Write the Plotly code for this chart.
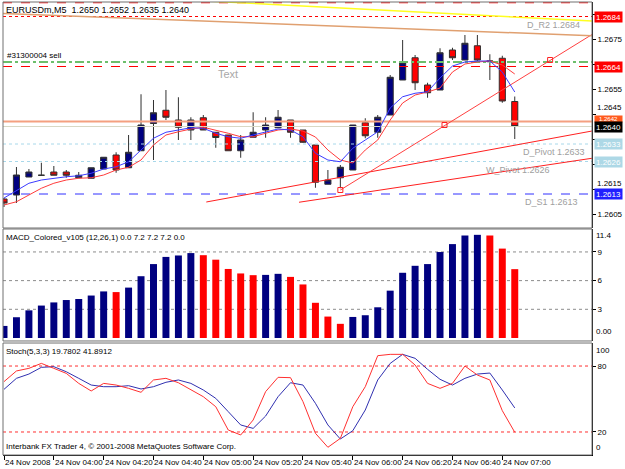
import plotly.graph_objects as go

# ---------------- data ----------------
bars = list(range(42))
opens = [1.26110, 1.26126, 1.26198, 1.26205, 1.26218, 1.26218, 1.26195, 1.26193, 1.26230, 1.26286,
         1.26235, 1.26303, 1.26412, 1.26465, 1.26426, 1.26386, 1.26435, 1.26377, 1.26366, 1.26303,
         1.26357, 1.26386, 1.26395, 1.26426, 1.26386, 1.26326, 1.26169, 1.26195, 1.26226, 1.26415,
         1.26377, 1.26446, 1.26586, 1.26675, 1.26566, 1.26546, 1.26706, 1.26666, 1.26723, 1.26659,
         1.26673, 1.26500]
highs = [1.26114, 1.26238, 1.26230, 1.26255, 1.26242, 1.26226, 1.26218, 1.26235, 1.26277, 1.26297,
         1.26366, 1.26529, 1.26506, 1.26546, 1.26517, 1.26437, 1.26446, 1.26377, 1.26366, 1.26366,
         1.26457, 1.26437, 1.26466, 1.26426, 1.26386, 1.26326, 1.26226, 1.26246, 1.26406, 1.26433,
         1.26446, 1.26606, 1.26746, 1.26686, 1.26575, 1.26713, 1.26715, 1.26766, 1.26766, 1.26689,
         1.26683, 1.26520]
lows = [1.26078, 1.26094, 1.26198, 1.26202, 1.26205, 1.26195, 1.26193, 1.26193, 1.26230, 1.26215,
        1.26235, 1.26303, 1.26266, 1.26426, 1.26346, 1.26346, 1.26386, 1.26315, 1.26303, 1.26275,
        1.26357, 1.26355, 1.26395, 1.26355, 1.26335, 1.26155, 1.26169, 1.26153, 1.26226, 1.26353,
        1.26355, 1.26446, 1.26586, 1.26546, 1.26515, 1.26546, 1.26666, 1.26666, 1.26659, 1.26586,
        1.26495, 1.26350]
closes = [1.26094, 1.26206, 1.26218, 1.26205, 1.26205, 1.26205, 1.26205, 1.26235, 1.26277, 1.26226,
          1.26297, 1.26406, 1.26455, 1.26437, 1.26397, 1.26426, 1.26386, 1.26356, 1.26303, 1.26346,
          1.26377, 1.26406, 1.26437, 1.26377, 1.26337, 1.26177, 1.26186, 1.26237, 1.26406, 1.26363,
          1.26437, 1.26597, 1.26655, 1.26575, 1.26535, 1.26695, 1.26675, 1.26733, 1.26666, 1.26662,
          1.26502, 1.26400]
ma_fast = [1.26114, 1.26142, 1.26173, 1.26186, 1.26193, 1.26199, 1.26203, 1.26213, 1.26230, 1.26239,
           1.26259, 1.26306, 1.26353, 1.26377, 1.26386, 1.26395, 1.26393, 1.26373, 1.26359, 1.26353,
           1.26366, 1.26377, 1.26390, 1.26386, 1.26359, 1.26293, 1.26266, 1.26259, 1.26313, 1.26346,
           1.26379, 1.26474, 1.26519, 1.26533, 1.26539, 1.26594, 1.26642, 1.26658, 1.26662, 1.26662,
           1.26618, 1.26538]
ma_slow = [1.26086, 1.26099, 1.26126, 1.26153, 1.26173, 1.26186, 1.26193, 1.26195, 1.26206, 1.26226,
           1.26237, 1.26266, 1.26326, 1.26366, 1.26379, 1.26390, 1.26397, 1.26386, 1.26373, 1.26359,
           1.26359, 1.26373, 1.26386, 1.26390, 1.26382, 1.26358, 1.26306, 1.26266, 1.26254, 1.26306,
           1.26346, 1.26426, 1.26494, 1.26526, 1.26538, 1.26554, 1.26618, 1.26650, 1.26658, 1.26662,
           1.26646, 1.26610]
macd = [1.26, 2.17, 2.89, 3.39, 3.72, 3.97, 4.08, 4.44, 4.87, 4.80,
        5.27, 6.46, 7.73, 8.48, 8.63, 8.88, 8.66, 8.19, 7.22, 6.75,
        6.57, 6.60, 6.71, 6.39, 5.60, 3.68, 2.24, 1.48, 2.20, 2.38,
        3.21, 4.95, 6.82, 7.55, 7.73, 8.99, 9.82, 10.72, 10.79, 10.72,
        9.35, 7.20]
stoch_k = [65.8, 75.5, 77.9, 82.4, 77.9, 73.3, 64.2, 57.3, 64.2, 62.7,
           59.7, 56.1, 67.3, 68.8, 64.8, 58.8, 52.1, 43.0, 21.8, 17.3,
           30.9, 56.7, 69.7, 69.4, 47.6, 18.8, 6.1, 14.2, 43.0, 61.2,
           89.4, 90.6, 90.6, 80.9, 64.2, 59.7, 64.2, 80.0, 71.8, 67.3,
           39.4, 19.78]
stoch_d = [58.8, 68.8, 72.7, 78.8, 79.4, 74.8, 68.8, 62.7, 61.2, 61.2,
           62.1, 59.1, 61.2, 65.2, 67.3, 64.2, 58.2, 50.6, 38.5, 26.4,
           23.3, 34.5, 52.1, 64.8, 62.7, 46.1, 26.4, 13.6, 21.2, 40.0,
           67.3, 82.4, 90.6, 87.0, 77.0, 67.9, 62.7, 68.8, 72.7, 73.6,
           58.2, 41.89]
time_label_bars = [0, 4, 8, 12, 16, 20, 24, 28, 32, 36, 40]
time_labels = ["24 Nov 2008", "24 Nov 04:00", "24 Nov 04:20", "24 Nov 04:40", "24 Nov 05:00",
               "24 Nov 05:20", "24 Nov 05:40", "24 Nov 06:00", "24 Nov 06:20", "24 Nov 06:40",
               "24 Nov 07:00"]
price_ticks = [1.2605, 1.2615, 1.2625, 1.2635, 1.2645, 1.2655, 1.2665, 1.2675, 1.2685]
price_tick_text = ["1.2605", "", "", "", "", "1.2655", "", "1.2675", ""]
# tick labels that sit just above a price tag
raised_tick_prices = [1.2615, 1.2645]
raised_tick_texts = ["1.2615", "1.2645"]
raised_tick_shift = [-1, 0]
macd_ticks = [3, 6, 9]
stoch_ticks = [20, 80]

# horizontal chart objects (price levels)
level_prices = [1.26895, 1.2684, 1.26658, 1.2664, 1.2642, 1.2640, 1.2633, 1.2626, 1.2613]
level_colors = ["#ff0000", "#ff0000", "#6cbf6c", "#ff0000", "#f4a080", "#d8d8c4", "#a8d8ea", "#a8d8ea", "#3030ff"]
level_dash = ["dash", "dot", "dashdot", "dash", "solid", "solid", "dot", "dot", "dash"]
level_width = [1, 1, 2, 1, 2, 1, 1, 1, 1]

# right-axis price tags (full size)
tag_prices = [1.2684, 1.2664, 1.2640, 1.2633, 1.2626, 1.2613]
tag_texts = ["1.2684", "1.2664", "1.2640", "1.2633", "1.2626", "1.2613"]
tag_colors = ["#ff0000", "#ff0000", "#000000", "#add8e6", "#add8e6", "#2020ff"]
# partly hidden tag sitting just above the bid tag
small_tag_price = 1.2642
small_tag_text = "1.2642"
small_tag_color = "#ff5a1e"

# pivot labels
pivot_texts = ["D_R2 1.2684", "D_Pivot 1.2633", "W_Pivot 1.2626", "D_S1 1.2613"]
pivot_prices = [1.2684, 1.2633, 1.2626, 1.2613]
pivot_bars = [41.8, 41.5, 38.5, 41.7]

# trend lines (bar index, price)
trend_x0 = [16.24, 23.68, 27.0, 14.64, -0.08]
trend_y0 = [1.26098, 1.26097, 1.26146, 1.26906, 1.26852]
trend_x1 = [47.2, 47.2, 47.2, 47.2, 47.2]
trend_y1 = [1.26382, 1.26273, 1.26768, 1.26822, 1.26763]
trend_colors = ["#ff2020", "#ff2020", "#ff4040", "#ffff20", "#e0a070"]
trend_widths = [1, 1, 1, 1.5, 1.5]
anchor_x = [27.0, 35.36, 43.84]
anchor_y = [1.26146, 1.26406, 1.26666]

FONT = "Liberation Sans, Arial, sans-serif"

fig = go.Figure()

for p, c, d, w in zip(level_prices, level_colors, level_dash, level_width):
    fig.add_trace(go.Scatter(x=[-0.08, 47.2], y=[p, p], mode="lines",
                             line=dict(color=c, dash=d, width=w), yaxis="y", hoverinfo="skip"))

for x0, y0, x1, y1, c, w in zip(trend_x0, trend_y0, trend_x1, trend_y1, trend_colors, trend_widths):
    fig.add_trace(go.Scatter(x=[x0, x1], y=[y0, y1], mode="lines",
                             line=dict(color=c, width=w), yaxis="y", hoverinfo="skip"))
fig.add_trace(go.Scatter(x=anchor_x, y=anchor_y, mode="markers",
                         marker=dict(symbol="square-open", size=5, color="#ff2020", line=dict(width=1)),
                         yaxis="y", hoverinfo="skip"))

fig.add_trace(go.Candlestick(
    x=bars, open=opens, high=highs, low=lows, close=closes, yaxis="y",
    increasing=dict(fillcolor="#000080", line=dict(color="#303030", width=1)),
    decreasing=dict(fillcolor="#ff0000", line=dict(color="#303030", width=1)),
    whiskerwidth=0, hoverinfo="skip"))

fig.add_trace(go.Scatter(x=bars, y=ma_slow, mode="lines", line=dict(color="#ff3b3b", width=1), yaxis="y"))
fig.add_trace(go.Scatter(x=bars, y=ma_fast, mode="lines", line=dict(color="#3b3bff", width=1), yaxis="y"))

macd_colors = ["#000080" if i == 0 or macd[i] >= macd[i - 1] else "#ff0000" for i in range(len(macd))]
fig.add_trace(go.Bar(x=bars, y=macd, marker=dict(color=macd_colors, line=dict(width=0)),
                     width=0.56, yaxis="y2", hoverinfo="skip"))

fig.add_trace(go.Scatter(x=bars, y=stoch_d, mode="lines", line=dict(color="#3030b0", width=1), yaxis="y3"))
fig.add_trace(go.Scatter(x=bars, y=stoch_k, mode="lines", line=dict(color="#ff3030", width=1), yaxis="y3"))

shapes = []
for v in macd_ticks:
    shapes.append(dict(type="line", xref="x domain", x0=0, x1=1, yref="y2", y0=v, y1=v,
                       line=dict(color="#8c8c8c", width=1, dash="3px,3px"), layer="below"))
for v in stoch_ticks:
    shapes.append(dict(type="line", xref="x domain", x0=0, x1=1, yref="y3", y0=v, y1=v,
                       line=dict(color="#ff3030", width=1, dash="3px,3px"), layer="below"))
for yr in ["y", "y2", "y3"]:
    shapes.append(dict(type="rect", xref="x domain", x0=0, x1=1, yref=yr + " domain", y0=0, y1=1,
                       line=dict(color="#707070", width=1)))

annotations = []
small = dict(family=FONT, size=8, color="#000000")
for b, t in zip(time_label_bars, time_labels):
    annotations.append(dict(x=b, xref="x", y=0, yref="paper", text=t, showarrow=False,
                            xanchor="left", yanchor="top", xshift=-1, yshift=-1, font=small))
for p, t, s in zip(raised_tick_prices, raised_tick_texts, raised_tick_shift):
    annotations.append(dict(x=1, xref="paper", y=p, yref="y", text=t,
                            showarrow=False, xanchor="left", yanchor="bottom", xshift=3, yshift=s,
                            font=small))
annotations.append(dict(x=1, xref="paper", y=small_tag_price, yref="y", text=small_tag_text,
                        showarrow=False, xanchor="left", yanchor="bottom", xshift=2, yshift=-1,
                        bgcolor=small_tag_color, width=27, height=6, borderpad=0,
                        font=dict(family=FONT, size=6, color="#ffffff")))
for p, t, c in zip(tag_prices, tag_texts, tag_colors):
    annotations.append(dict(x=1, xref="paper", y=p, yref="y", text=t, showarrow=False,
                            xanchor="left", yanchor="middle", xshift=2, bgcolor=c,
                            width=27, height=10, borderpad=0,
                            font=dict(family=FONT, size=8, color="#ffffff")))
for t, p, b in zip(pivot_texts, pivot_prices, pivot_bars):
    annotations.append(dict(x=b, xref="x", y=p, yref="y", text=t, showarrow=False,
                            xanchor="left", yanchor="top", yshift=-1,
                            font=dict(family=FONT, size=9, color="#a0a0a0")))
annotations += [
    dict(x=0, xref="paper", y=1, yref="paper", text="EURUSDm,M5  1.2650 1.2652 1.2635 1.2640",
         showarrow=False, xanchor="left", yanchor="top", xshift=1, yshift=-1,
         font=dict(family=FONT, size=9, color="#000000")),
    dict(x=0, xref="paper", y=level_prices[2], yref="y", text="#31300004 sell",
         showarrow=False, xanchor="left", yanchor="bottom", xshift=2, font=small),
    dict(x=18, xref="x", y=1.2661, yref="y", text="Text", showarrow=False,
         font=dict(family=FONT, size=11, color="#a8a8a8")),
    dict(x=0, xref="paper", y=1, yref="y2 domain", text="MACD_Colored_v105 (12,26,1) 0.0 7.2 7.2 7.2 0.0",
         showarrow=False, xanchor="left", yanchor="top", xshift=1, yshift=-2, font=small),
    dict(x=0, xref="paper", y=1, yref="y3 domain", text="Stoch(5,3,3) 19.7802 41.8912",
         showarrow=False, xanchor="left", yanchor="top", xshift=1, yshift=-2, font=small),
    dict(x=0, xref="paper", y=0, yref="y3 domain",
         text="Interbank FX Trader 4, © 2001-2008 MetaQuotes Software Corp.",
         showarrow=False, xanchor="left", yanchor="bottom", xshift=1, yshift=2, font=small),
    dict(x=1, xref="paper", y=11.4, yref="y2", text="11.4", showarrow=False,
         xanchor="left", yanchor="top", xshift=2, font=small),
    dict(x=1, xref="paper", y=0, yref="y2", text="0.00", showarrow=False,
         xanchor="left", yanchor="bottom", xshift=2, font=small),
    dict(x=1, xref="paper", y=100, yref="y3", text="100", showarrow=False,
         xanchor="left", yanchor="top", xshift=2, font=small),
    dict(x=1, xref="paper", y=0, yref="y3", text="0", showarrow=False,
         xanchor="left", yanchor="bottom", xshift=2, font=small),
]

axis_common = dict(side="right", anchor="x", showgrid=False, zeroline=False, ticks="outside",
                   ticklen=3, tickcolor="#000000", showline=True, linecolor="#000000", linewidth=1,
                   tickfont=dict(family=FONT, size=8, color="#000000"), fixedrange=True)

fig.update_layout(
    width=625, height=469, margin=dict(l=3, r=31, t=2, b=14),
    paper_bgcolor="#ffffff", plot_bgcolor="#ffffff", showlegend=False,
    xaxis=dict(range=[-0.08, 47.2], anchor="y3", showgrid=False, zeroline=False,
               tickvals=time_label_bars, showticklabels=False, ticks="outside", ticklen=4,
               tickcolor="#000000", showline=True, linecolor="#000000",
               rangeslider=dict(visible=False), fixedrange=True),
    yaxis=dict(domain=[0.5011, 1.0], range=[1.25994, 1.26898], tickvals=price_ticks,
               ticktext=price_tick_text, **axis_common),
    yaxis2=dict(domain=[0.2517, 0.4989], range=[-0.314, 11.4], tickvals=macd_ticks,
                ticktext=[str(v) for v in macd_ticks], **axis_common),
    yaxis3=dict(domain=[0.0, 0.2472], range=[-0.91, 100.91], tickvals=stoch_ticks,
                ticktext=[str(v) for v in stoch_ticks], **axis_common),
    shapes=shapes, annotations=annotations, bargap=0.4,
)

fig.write_html("out.html")
